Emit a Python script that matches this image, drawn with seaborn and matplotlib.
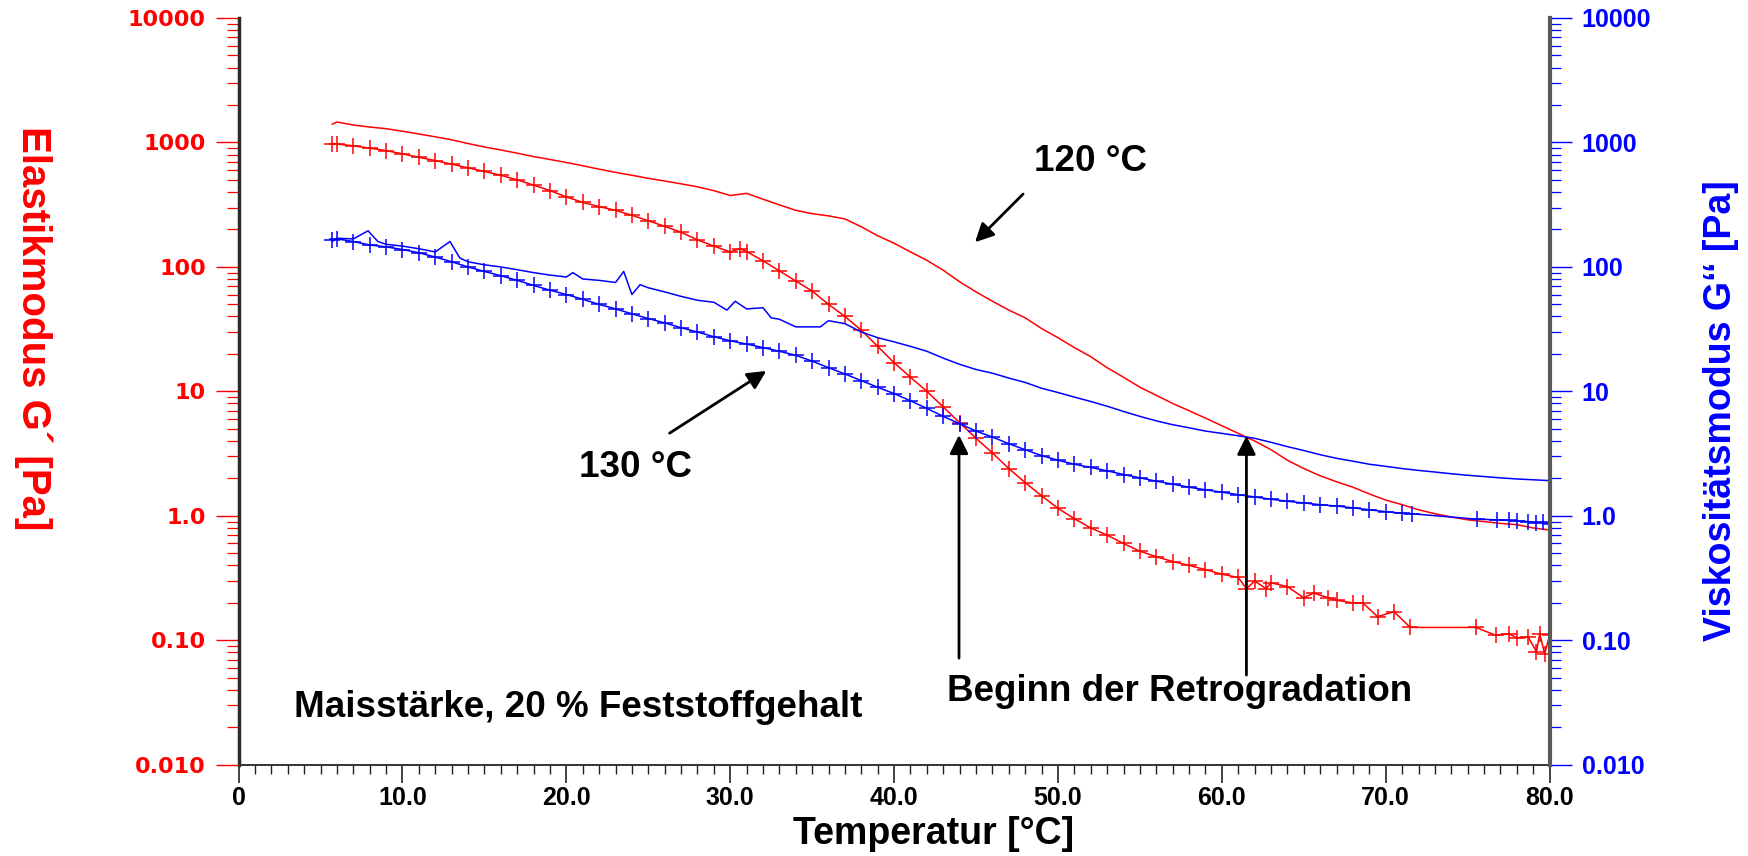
import numpy as np
import pandas as pd
import matplotlib
matplotlib.use("Agg")
import matplotlib.pyplot as plt
import seaborn as sns
from matplotlib import font_manager as fm
from matplotlib.ticker import LogLocator, NullFormatter, MultipleLocator

# ---------------- data ----------------
temp_gp_120 = [5.7, 6, 7, 8, 9, 10, 11, 12, 13, 14, 15, 16, 17, 18, 19, 20, 21, 22, 23, 24,
               25, 26, 27, 28, 29, 30, 31, 32, 33, 34, 35, 36, 37, 38, 39, 40, 41, 42, 43, 44,
               45, 46, 47, 48, 49, 50, 51, 52, 53, 54, 55, 56, 57, 58, 59, 60, 61, 62, 63, 64,
               65, 66, 67, 68, 69, 70, 71, 72, 73, 74, 75, 76, 77, 78, 79, 80]
gp_120 = [1400, 1460, 1380, 1330, 1290, 1230, 1170, 1110, 1050, 980, 920, 870, 820, 770, 730,
          690, 650, 610, 575, 545, 515, 490, 465, 440, 410, 375, 390, 350, 315, 285, 268, 257,
          243, 210, 178, 155, 132, 113, 94, 76, 63, 53, 45, 39, 32, 27, 22.5, 19, 15.5, 13,
          10.8, 9.3, 8.0, 7.0, 6.1, 5.3, 4.6, 4.0, 3.4, 2.8, 2.4, 2.1, 1.88, 1.7, 1.5, 1.34,
          1.23, 1.12, 1.04, 0.98, 0.93, 0.90, 0.87, 0.85, 0.80, 0.77]

temp_gp_130 = [5.7, 6, 7, 8, 9, 10, 11, 12, 13, 14, 15, 16, 17, 18, 19, 20, 21, 22, 23, 24,
               25, 26, 27, 28, 29, 30, 30.6, 31, 32, 33, 34, 35, 36, 37, 38, 39, 40, 41, 42,
               43, 44, 45, 46, 47, 48, 49, 50, 51, 52, 53, 54, 55, 56, 57, 58, 59, 60, 61,
               61.5, 62, 62.7, 63, 64, 65, 65.6, 66.5, 67, 68, 68.6, 69.5, 70.5, 71.5, 75.5,
               76.7, 77.5, 78, 78.7, 79.2, 79.4, 79.7, 80]
gp_130 = [980, 970, 940, 900, 860, 810, 760, 715, 670, 625, 585, 545, 500, 455, 410, 365, 330,
          305, 285, 260, 235, 212, 190, 165, 147, 132, 140, 133, 112, 93, 77, 64, 50, 40, 31,
          23, 17, 13, 10, 7.5, 5.6, 4.2, 3.2, 2.4, 1.85, 1.45, 1.15, 0.95, 0.80, 0.70, 0.60,
          0.52, 0.47, 0.43, 0.40, 0.37, 0.34, 0.32, 0.26, 0.30, 0.26, 0.29, 0.27, 0.22, 0.24,
          0.22, 0.21, 0.20, 0.20, 0.155, 0.17, 0.127, 0.127, 0.11, 0.113, 0.105, 0.106, 0.081,
          0.113, 0.078, 0.11]

temp_gpp_120 = [5.7, 6, 7, 7.9, 8.5, 9, 10, 11, 12, 12.9, 13.5, 14, 15, 16, 17, 18, 19, 20,
                20.4, 21, 22, 23, 23.5, 24, 24.5, 25, 26, 27, 28, 29, 29.8, 30.3, 31, 32, 32.5,
                33, 34, 35, 35.5, 36, 37, 38, 39, 40, 41, 42, 43, 44, 45, 46, 47, 48, 49, 50,
                51, 52, 53, 54, 55, 56, 57, 58, 59, 60, 61, 62, 63, 64, 65, 66, 67, 68, 69, 70,
                71, 72, 73, 74, 75, 76, 77, 78, 79, 80]
gpp_120 = [160, 170, 168, 195, 160, 152, 147, 140, 132, 160, 118, 110, 104, 100, 95, 90, 86,
           83, 90, 80, 78, 75, 92, 60, 72, 68, 63, 58, 54, 52, 45, 53, 46, 47, 39, 38, 33, 33,
           33, 37, 35, 30, 27, 25, 23, 21, 18.5, 16.5, 15, 14, 12.8, 11.8, 10.6, 9.8, 9.0, 8.3,
           7.6, 6.9, 6.3, 5.8, 5.4, 5.1, 4.8, 4.6, 4.4, 4.2, 3.9, 3.6, 3.35, 3.1, 2.9, 2.75,
           2.6, 2.5, 2.4, 2.32, 2.25, 2.18, 2.12, 2.07, 2.02, 1.98, 1.95, 1.92]

temp_gpp_130 = [5.7, 6, 7, 8, 9, 10, 11, 12, 13, 14, 15, 16, 17, 18, 19, 20, 21, 22, 23, 24,
                25, 26, 27, 28, 29, 30, 31, 32, 33, 34, 35, 36, 37, 38, 39, 40, 41, 42, 43, 44,
                45, 46, 47, 48, 49, 50, 51, 52, 53, 54, 55, 56, 57, 58, 59, 60, 61, 62, 63, 64,
                65, 66, 67, 68, 69, 70, 71, 71.6, 75.6, 76.8, 77.5, 78, 78.7, 79.2, 79.6, 80]
gpp_130 = [165, 168, 160, 150, 145, 138, 130, 120, 110, 100, 92, 85, 78, 71, 65, 60, 55, 50,
           46, 42, 38.5, 35.5, 32.5, 30, 27.5, 25.5, 24, 22.5, 21, 19.5, 17.5, 15.5, 13.8, 12.2,
           10.8, 9.6, 8.4, 7.3, 6.3, 5.5, 4.8, 4.3, 3.8, 3.4, 3.05, 2.8, 2.6, 2.45, 2.3, 2.15,
           2.02, 1.9, 1.8, 1.7, 1.62, 1.55, 1.48, 1.42, 1.36, 1.31, 1.27, 1.23, 1.2, 1.16, 1.12,
           1.08, 1.05, 1.04, 0.94, 0.93, 0.92, 0.91, 0.90, 0.88, 0.89, 0.86]

x_ticks = [0, 10, 20, 30, 40, 50, 60, 70, 80]
x_ticklabels = ["0", "10.0", "20.0", "30.0", "40.0", "50.0", "60.0", "70.0", "80.0"]
y_ticks = [0.01, 0.1, 1, 10, 100, 1000, 10000]
y_ticklabels = ["0.010", "0.10", "1.0", "10", "100", "1000", "10000"]

# ---------------- fonts ----------------
sns.set_style("white")
names = {f.name for f in fm.fontManager.ttflist}
NARROW = ["Liberation Sans Narrow", "Liberation Sans", "DejaVu Sans"]
ARIAL = ["Liberation Sans", "DejaVu Sans"]
has_narrow = "Liberation Sans Narrow" in names
plt.rcParams["font.family"] = ARIAL

RED = "#FF0000"
BLUE = "#0000FF"

fig = plt.figure(figsize=(17.48, 8.56), dpi=100)
ax = fig.add_axes([0.1365, 0.1065, 0.75, 0.8725])
ax2 = ax.twinx()

df_gp120 = pd.DataFrame({"T": temp_gp_120, "v": gp_120})
df_gp130 = pd.DataFrame({"T": temp_gp_130, "v": gp_130})
df_gpp120 = pd.DataFrame({"T": temp_gpp_120, "v": gpp_120})
df_gpp130 = pd.DataFrame({"T": temp_gpp_130, "v": gpp_130})

sns.lineplot(data=df_gp120, x="T", y="v", ax=ax, color=RED, lw=1.1,
             estimator=None, sort=False)
sns.lineplot(data=df_gp130, x="T", y="v", ax=ax, color=RED, lw=1.1, marker="+",
             markersize=11, markeredgecolor=RED, markeredgewidth=1.1,
             estimator=None, sort=False)
sns.lineplot(data=df_gpp120, x="T", y="v", ax=ax2, color=BLUE, lw=1.1,
             estimator=None, sort=False)
sns.lineplot(data=df_gpp130, x="T", y="v", ax=ax2, color=BLUE, lw=1.1, marker="+",
             markersize=11, markeredgecolor=BLUE, markeredgewidth=1.1,
             estimator=None, sort=False)

for a in (ax, ax2):
    a.set_yscale("log")
    a.set_ylim(0.01, 10000)
    a.set_xlim(0, 80)
    a.set_xlabel("")
    a.set_ylabel("")
    a.spines["top"].set_visible(False)

# left axis
ax.set_yticks(y_ticks, labels=y_ticklabels, fontweight="bold",
              fontfamily=["DejaVu Sans"], fontsize=16, color=RED)
ax.yaxis.set_minor_locator(LogLocator(base=10, subs=np.arange(2, 10)))
ax.yaxis.set_minor_formatter(NullFormatter())
ax.tick_params(axis="y", which="major", length=16.5, width=1, color=RED,
               direction="out", pad=7, left=True)
ax.tick_params(axis="y", which="minor", length=8.5, width=0.9, color=RED,
               direction="out", left=True)

# x axis
ax.set_xticks(x_ticks, labels=x_ticklabels, fontweight="bold",
              fontfamily=NARROW, fontsize=21.5 if has_narrow else 18, color="black")
ax.xaxis.set_minor_locator(MultipleLocator(1))
ax.tick_params(axis="x", which="major", length=13, width=1.2, color="#222222",
               direction="out", pad=2, bottom=True)
ax.tick_params(axis="x", which="minor", length=6.5, width=1.0, color="#222222",
               direction="out", bottom=True)

# right axis
ax2.set_yticks(y_ticks, labels=y_ticklabels, fontweight="bold",
               fontfamily=ARIAL, fontsize=18, color=BLUE)
ax2.yaxis.set_minor_locator(LogLocator(base=10, subs=np.arange(2, 10)))
ax2.yaxis.set_minor_formatter(NullFormatter())
ax2.tick_params(axis="y", which="major", length=16, width=1, color=BLUE,
                direction="out", pad=7, right=True)
ax2.tick_params(axis="y", which="minor", length=8, width=0.9, color=BLUE,
                direction="out", right=True)

ax.spines["right"].set_visible(False)
ax2.spines["left"].set_visible(False)
ax2.spines["bottom"].set_visible(False)
ax.spines["left"].set_color("#2a2a2a")
ax.spines["left"].set_linewidth(2.5)
ax2.spines["right"].set_color("#5a5a5a")
ax2.spines["right"].set_linewidth(3)
ax.spines["bottom"].set_color("#333333")
ax.spines["bottom"].set_linewidth(1.4)
ax.grid(False)
ax2.grid(False)

# axis titles
fig.text(0.019, 0.617, "Elastikmodus G´ [Pa]", rotation=-90, color=RED,
         fontsize=37.5 if has_narrow else 29, fontweight="bold", family=NARROW,
         ha="center", va="center")
fig.text(0.9845, 0.52, "Viskositätsmodus G‘‘ [Pa]", rotation=90, color=BLUE,
         fontsize=27, fontweight="bold", family=ARIAL, ha="center", va="center")
fig.text(0.534, 0.026, "Temperatur [°C]", color="black",
         fontsize=33.5 if has_narrow else 27, fontweight="bold", family=NARROW,
         ha="center", va="center")

# annotations
tkw = dict(fontsize=26.5, fontweight="bold", family=ARIAL, color="black",
           ha="center", va="center")
akw = dict(arrowstyle="-|>", color="black", lw=2, mutation_scale=28,
           shrinkA=0, shrinkB=0)
ax2.text(52.0, 708, "120 °C", **tkw)
ax2.annotate("", xy=(44.94, 158), xytext=(47.87, 385), arrowprops=akw)
ax2.text(24.2, 2.47, "130 °C", **tkw)
ax2.annotate("", xy=(32.2, 14.6), xytext=(26.3, 4.62), arrowprops=akw)
ax2.annotate("", xy=(43.96, 4.46), xytext=(43.96, 0.072), arrowprops=akw)
ax2.annotate("", xy=(61.5, 4.4), xytext=(61.5, 0.0526), arrowprops=akw)
ax2.text(57.4, 0.0385, "Beginn der Retrogradation", **tkw)
ax2.text(20.7, 0.0291, "Maisstärke, 20 % Feststoffgehalt", **tkw)

fig.savefig("out.png", dpi=100)
